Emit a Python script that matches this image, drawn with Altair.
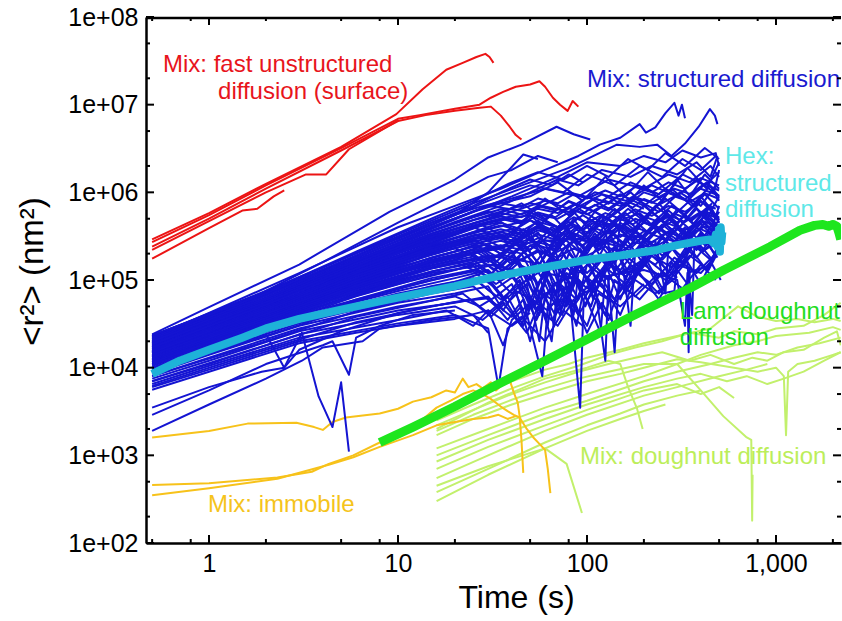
import altair as alt
import pandas as pd

# ---------------- data ----------------
red_lines = [
    [(0.5, 2.9e5), (1, 5.8e5), (2, 1.25e6), (5, 3.3e6), (9.8, 7.8e6), (13.5, 1.5e7), (18, 2.5e7), (22, 3.0e7),
     (26, 3.5e7), (29, 3.8e7), (30.5, 3.5e7), (32, 3.0e7)],
    [(0.5, 2.7e5), (1, 5.5e5), (2, 1.2e6), (5, 3.2e6), (10, 6.9e6), (13, 7.6e6), (20, 9.0e6), (27, 1.0e7),
     (31, 1.2e7), (36, 1.4e7), (42, 1.6e7), (50, 1.7e7), (56, 1.85e7), (60, 1.6e7), (66, 1.2e7), (72, 1.0e7),
     (79, 8.5e6), (84, 1.1e7), (90, 9.5e6)],
    [(0.5, 2.4e5), (1, 5.0e5), (2, 1.1e6), (5, 3.0e6), (10, 6.5e6), (14, 7.6e6), (20, 8.5e6), (27, 9.2e6),
     (31, 9.5e6), (35, 7.5e6), (39, 5.6e6), (42, 4.5e6), (45, 4.0e6)],
    [(0.5, 1.75e5), (1, 3.9e5), (1.5, 6.2e5), (1.8, 6.5e5), (2.2, 9.0e5), (2.5, 1.05e6)],
    [(0.5, 2.2e5), (1, 4.7e5), (2, 1.0e6), (3.26, 1.6e6), (4.17, 1.6e6), (5.5, 3.1e6), (8, 5.0e6), (10, 6.6e6)],
]

blue_lines = [
    [(0.5, 2.4e4), (1, 4.9e4), (3, 1.5e5), (9, 6.0e5), (20, 1.4e6), (30, 2.5e6), (45, 3.5e6), (69, 5.6e6), (85, 4.6e6), (104, 4.0e6)],
    [(0.5, 2.2e4), (1, 4.2e4), (3, 1.2e5), (10, 4.0e5), (20, 7.0e5), (35, 1.1e6), (60, 1.8e6), (90, 2.6e6), (117, 3.5e6),
     (150, 4.2e6), (190, 6.0e6), (205, 4.8e6), (230, 5.5e6), (260, 8.0e6), (290, 1.05e7), (305, 7.5e6), (318, 1.0e7), (330, 7.0e6)],
    [(0.5, 2.1e4), (1, 3.9e4), (3, 1.05e5), (10, 3.3e5), (25, 7.5e5), (50, 1.3e6), (80, 1.9e6), (144, 3.5e6), (190, 3.3e6),
     (235, 3.5e6), (280, 2.6e6), (330, 3.6e6), (390, 5.6e6), (447, 8.9e6), (475, 7.5e6), (490, 6.0e6)],
    [(0.5, 2.0e4), (1, 3.7e4), (3, 1.0e5), (10, 3.0e5), (20, 5.5e5), (30, 1.0e6), (46, 2.7e6), (55, 2.4e6)],
    [(0.5, 1.95e4), (1, 3.6e4), (3, 9.5e4), (10, 2.8e5), (20, 5.0e5), (40, 9.0e5), (70, 1.5e6), (100, 2.2e6), (150, 2.0e6),
     (200, 2.6e6), (260, 2.2e6), (320, 3.0e6), (400, 2.5e6), (480, 2.8e6), (500, 2.0e6)],
    [(0.5, 1.9e4), (1, 3.4e4), (3, 9.0e4), (10, 2.6e5), (20, 4.6e5), (35, 7.0e5), (50, 1.0e6), (70, 1.4e6), (90, 1.2e6),
     (120, 1.8e6), (170, 1.5e6), (220, 2.0e6), (300, 1.6e6), (380, 2.2e6), (450, 1.5e6), (490, 2.6e6)],
    [(0.5, 1.8e4), (1, 3.2e4), (3, 8.0e4), (10, 2.2e5), (20, 3.8e5), (40, 6.0e5), (60, 8.0e5), (80, 6.5e5), (110, 1.0e6),
     (160, 8.0e5), (220, 1.2e6), (300, 9.0e5), (380, 1.4e6), (470, 1.0e6), (500, 1.8e6)],
    [(0.5, 1.7e4), (1, 3.0e4), (3, 7.5e4), (10, 2.0e5), (20, 3.3e5), (30, 4.5e5), (50, 5.5e5), (70, 4.0e5), (95, 7.0e5),
     (130, 5.0e5), (180, 8.5e5), (240, 6.0e5), (310, 1.0e6), (400, 7.0e5), (480, 1.2e6)],
    [(0.5, 1.65e4), (1, 2.9e4), (3, 7.0e4), (10, 1.8e5), (20, 3.0e5), (35, 4.5e5), (50, 3.5e5), (65, 5.5e5), (85, 3.0e5),
     (110, 6.0e5), (150, 4.0e5), (200, 7.0e5), (260, 4.5e5), (350, 8.0e5), (430, 5.0e5), (500, 9.0e5)],
    [(0.5, 1.6e4), (1, 2.8e4), (3, 6.8e4), (10, 1.7e5), (20, 2.7e5), (40, 3.8e5), (55, 2.5e5), (75, 4.5e5), (100, 2.0e5),
     (130, 5.0e5), (170, 3.0e5), (220, 6.0e5), (290, 3.5e5), (380, 6.5e5), (460, 4.0e5), (500, 7.0e5)],
    [(0.5, 1.55e4), (1, 2.7e4), (3, 6.5e4), (10, 1.6e5), (25, 2.8e5), (40, 2.0e5), (55, 3.5e5), (70, 1.5e5), (85, 3.0e5),
     (120, 2.5e5), (160, 4.5e5), (210, 2.8e5), (270, 5.0e5), (350, 3.0e5), (420, 5.5e5), (490, 3.5e5)],
    [(0.5, 1.5e4), (1, 2.6e4), (3, 6.2e4), (10, 1.5e5), (20, 2.3e5), (30, 1.6e5), (45, 2.8e5), (60, 1.2e5), (80, 2.6e5),
     (100, 1.0e5), (130, 3.0e5), (180, 2.0e5), (240, 4.0e5), (330, 2.5e5), (420, 4.5e5), (500, 3.0e5)],
    [(0.5, 1.45e4), (1, 2.5e4), (3, 6.0e4), (10, 1.4e5), (20, 2.1e5), (35, 3.2e5), (50, 2.2e5), (65, 4.0e5), (90, 2.6e5),
     (120, 5.5e5), (170, 3.5e5), (230, 7.0e5), (300, 4.5e5), (400, 9.0e5), (480, 5.5e5)],
    [(0.5, 1.4e4), (1, 2.4e4), (3, 5.7e4), (10, 1.3e5), (20, 1.9e5), (30, 2.6e5), (40, 1.5e5), (55, 2.2e5), (70, 8.0e4),
     (80, 2.0e5), (100, 1.2e5), (140, 2.4e5), (190, 1.4e5), (250, 3.0e5), (320, 1.8e5), (400, 3.5e5), (470, 2.0e5)],
    [(0.5, 1.35e4), (1, 2.3e4), (3, 5.4e4), (10, 1.25e5), (20, 1.8e5), (35, 2.4e5), (50, 3.5e5), (60, 1.5e5), (75, 3.0e5),
     (95, 2.0e5), (130, 3.8e5), (160, 1.2e5), (200, 3.0e5), (260, 2.0e5), (330, 4.0e5), (420, 2.5e5), (500, 5.0e5)],
    [(0.5, 1.3e4), (1, 2.2e4), (3, 5.2e4), (10, 1.2e5), (20, 1.7e5), (28, 2.2e5), (38, 1.3e5), (50, 2.5e5), (65, 1.8e5),
     (80, 3.2e5), (100, 2.2e5), (140, 4.2e5), (180, 2.6e5), (240, 5.0e5), (320, 3.0e5), (410, 6.0e5), (490, 4.0e5)],
    [(0.5, 1.25e4), (1, 2.1e4), (3, 5.0e4), (10, 1.1e5), (20, 1.6e5), (30, 1.1e5), (40, 1.9e5), (55, 9.0e4), (70, 1.7e5),
     (90, 6.0e4), (100, 1.5e5), (130, 1.0e5), (170, 2.2e5), (230, 1.5e5), (300, 2.8e5), (380, 1.8e5), (470, 3.2e5)],
    [(0.5, 1.2e4), (1, 2.0e4), (3, 4.6e4), (10, 1.0e5), (20, 1.45e5), (35, 1.9e5), (50, 1.3e5), (60, 2.2e5), (75, 1.1e5),
     (85, 4.0e4), (90, 1.2e5), (110, 1.8e5), (150, 1.3e5), (190, 2.5e5), (250, 1.7e5), (330, 3.2e5), (420, 2.2e5), (500, 2.8e5)],
    [(0.5, 1.15e4), (1, 1.9e4), (3, 4.3e4), (10, 9.0e4), (20, 1.3e5), (30, 1.7e5), (42, 1.0e5), (55, 1.6e5), (68, 7.0e4),
     (78, 1.4e5), (95, 9.0e4), (120, 1.7e5), (160, 1.1e5), (210, 2.0e5), (280, 1.4e5), (360, 2.6e5), (450, 1.7e5)],
    [(0.5, 1.1e4), (1, 1.8e4), (3, 4.0e4), (10, 8.0e4), (20, 1.15e5), (32, 1.5e5), (45, 9.0e4), (58, 1.3e5), (70, 5.0e4),
     (82, 1.2e5), (100, 8.0e4), (125, 1.5e5), (150, 6.0e4), (175, 1.3e5), (220, 9.0e4), (290, 1.8e5), (380, 1.2e5), (480, 2.0e5)],
    [(0.5, 1.05e4), (1, 1.7e4), (3, 3.8e4), (10, 7.5e4), (20, 1.05e5), (30, 1.3e5), (40, 7.0e4), (50, 1.1e5), (62, 3.0e4),
     (66, 9.0e4), (85, 1.1e5), (105, 5.0e4), (120, 1.2e5), (160, 8.0e4), (200, 1.5e5), (260, 1.0e5), (340, 1.7e5)],
    [(0.5, 1.0e4), (1, 1.6e4), (3, 3.6e4), (10, 7.0e4), (20, 9.5e4), (28, 1.2e5), (36, 6.0e4), (44, 1.0e5), (52, 5.0e4),
     (60, 9.0e4), (72, 4.0e4), (80, 9.0e4), (92, 3.5e3), (96, 6.0e4), (110, 1.0e5), (140, 6.0e4), (170, 1.1e5)],
    [(0.5, 9.5e3), (1, 1.55e4), (3, 3.4e4), (10, 6.5e4), (20, 8.5e4), (30, 1.05e5), (38, 5.5e4), (48, 9.0e4), (56, 2.0e4),
     (60, 7.0e4), (75, 8.0e4), (88, 3.0e4), (95, 7.0e4), (120, 9.0e4), (150, 4.0e4), (185, 1.2e5), (240, 7.0e4), (300, 1.3e5)],
    [(0.5, 9.0e3), (1, 1.5e4), (3, 3.2e4), (10, 6.0e4), (20, 8.0e4), (26, 1.0e5), (33, 6.5e4), (40, 9.0e4), (47, 4.0e4),
     (53, 8.0e4), (65, 6.0e4), (78, 1.2e5), (100, 7.0e4), (125, 1.4e5), (160, 9.0e4), (210, 1.7e5), (270, 1.1e5),
     (350, 1.9e5), (440, 1.3e5), (500, 2.2e5)],
    [(0.5, 8.5e3), (1, 1.4e4), (3, 3.0e4), (10, 5.5e4), (20, 7.0e4), (30, 8.5e4), (36, 4.5e4), (42, 7.5e4), (55, 5.5e4),
     (70, 9.5e4), (85, 5.0e4), (100, 8.5e4), (130, 3.5e4), (150, 9.0e4), (190, 6.0e4), (250, 1.2e5), (320, 8.0e4),
     (400, 1.5e5), (480, 1.0e5)],
    [(0.5, 8.0e3), (1, 1.3e4), (3, 2.8e4), (10, 5.0e4), (20, 6.5e4), (27, 5.0e4), (35, 7.0e4), (45, 3.0e4), (50, 6.0e4),
     (62, 4.5e4), (75, 7.5e4), (90, 4.0e4), (110, 8.0e4), (140, 5.5e4), (180, 1.0e5), (230, 7.0e4), (300, 1.1e5)],
    [(0.5, 7.5e3), (1, 1.2e4), (3, 2.6e4), (10, 4.5e4), (20, 5.5e4), (30, 6.5e4), (38, 3.5e4), (46, 6.0e4), (58, 8.0e3),
     (62, 5.0e4), (80, 6.5e4), (100, 3.0e4), (115, 7.0e4), (150, 5.0e4), (200, 9.0e4)],
    [(0.5, 7.0e3), (1, 1.1e4), (3, 2.4e4), (10, 4.0e4), (20, 5.0e4), (28, 3.5e4), (36, 5.5e4), (48, 2.5e4), (55, 5.0e4),
     (70, 3.0e4), (85, 6.0e4), (100, 2.5e4), (120, 5.5e4), (140, 3.0e4)],
    [(0.5, 6.5e3), (1, 1.05e4), (3, 2.2e4), (10, 3.5e4), (18, 4.5e4), (25, 3.0e4), (30, 4.5e4), (36, 1.8e4), (40, 3.5e4),
     (50, 5.5e4), (65, 3.5e4), (80, 6.5e4)],
    [(0.5, 6.0e3), (1, 9.5e3), (3, 2.0e4), (10, 3.2e4), (20, 4.0e4), (30, 2.8e4), (34, 6.0e3), (38, 2.8e4), (45, 3.8e4),
     (60, 2.0e4), (75, 4.5e4), (95, 3.0e4)],
    [(0.5, 5.6e3), (1, 9.0e3), (3, 1.9e4), (6, 2.5e4), (10, 3.0e4), (20, 3.6e4), (30, 4.5e4), (40, 3.0e4), (50, 4.2e4)],
    [(0.5, 3.5e3), (1, 6.0e3), (1.9, 9.0e3), (2.5, 1.0e4), (3, 1.6e4), (5, 2.6e4), (10, 4.2e4), (20, 5.6e4), (30, 6.2e4),
     (40, 3.8e4), (45, 5.0e4)],
    [(0.5, 9.0e3), (1, 1.5e4), (2, 2.4e4), (2.5, 1.0e4), (3.1, 2.5e4), (3.8, 4.7e3), (4.5, 2.1e3), (5.0, 6.8e3), (5.5, 1.1e3)],
    [(0.5, 2.9e3), (1, 5.5e3), (2, 1.1e4), (4, 1.8e4), (4.5, 2.0e4), (5.5, 8.3e3), (6.0, 2.2e4), (8, 3.0e4), (12, 4.0e4), (20, 4.5e4)],
    [(0.5, 1.9e3), (1, 3.8e3), (2, 7.5e3), (3.1, 1.2e4), (4, 1.7e4), (6.5, 2.0e4), (8, 2.8e4), (15, 3.5e4), (25, 4.0e4), (30, 2.5e4)],
    [(0.5, 2.3e4), (2, 7.5e4), (6, 2.0e5), (15, 4.5e5), (25, 6.5e5), (40, 8.5e5), (60, 1.1e6), (90, 9.0e5), (130, 1.4e6),
     (200, 1.1e6), (270, 1.6e6), (350, 1.3e6), (450, 2.0e6), (500, 1.5e6)],
    [(0.5, 2.25e4), (2, 7.0e4), (6, 1.8e5), (15, 4.0e5), (30, 7.0e5), (50, 6.0e5), (80, 1.0e6), (120, 8.0e5), (170, 1.3e6),
     (240, 9.5e5), (320, 1.6e6), (420, 1.2e6), (500, 1.7e6)],
    [(0.5, 1.85e4), (2, 5.8e4), (6, 1.5e5), (15, 3.2e5), (30, 5.0e5), (45, 7.5e5), (60, 5.0e5), (80, 8.0e5), (110, 6.0e5),
     (150, 9.5e5), (200, 7.0e5), (260, 1.1e6), (340, 8.0e5), (430, 1.3e6), (500, 9.0e5)],
    [(0.5, 1.75e4), (2, 5.3e4), (6, 1.35e5), (15, 2.8e5), (25, 4.0e5), (35, 3.0e5), (50, 4.8e5), (70, 3.5e5), (95, 5.5e5),
     (125, 3.8e5), (165, 6.5e5), (215, 4.2e5), (280, 7.0e5), (360, 4.8e5), (460, 7.5e5)],
    [(0.5, 1.6e4), (2, 4.8e4), (6, 1.2e5), (15, 2.4e5), (30, 3.5e5), (40, 2.6e5), (55, 4.0e5), (72, 2.8e5), (90, 4.2e5),
     (115, 2.2e5), (150, 4.5e5), (200, 3.0e5), (260, 5.5e5), (340, 3.3e5), (430, 5.8e5), (500, 4.0e5)],
    [(0.5, 1.5e4), (2, 4.4e4), (6, 1.1e5), (15, 2.1e5), (25, 2.9e5), (35, 2.0e5), (48, 3.2e5), (62, 2.1e5), (80, 3.5e5),
     (100, 1.6e5), (130, 3.6e5), (170, 2.3e5), (230, 4.2e5), (300, 2.6e5), (390, 4.6e5), (480, 3.0e5)],
    [(0.5, 1.4e4), (2, 4.0e4), (6, 9.5e4), (15, 1.8e5), (25, 2.4e5), (33, 1.6e5), (42, 2.6e5), (55, 1.4e5), (68, 2.8e5),
     (85, 1.3e5), (110, 3.0e5), (140, 1.6e5), (190, 3.3e5), (250, 1.9e5), (330, 3.6e5), (410, 2.1e5), (500, 3.2e5)],
    [(0.5, 1.3e4), (2, 3.6e4), (6, 8.5e4), (15, 1.55e5), (25, 2.0e5), (32, 1.3e5), (40, 2.1e5), (50, 1.0e5), (62, 2.2e5),
     (78, 1.0e5), (92, 2.3e5), (115, 9.0e4), (140, 2.4e5), (180, 1.3e5), (230, 2.6e5), (300, 1.5e5), (380, 2.8e5), (460, 1.7e5)],
    [(0.5, 1.2e4), (2, 3.2e4), (6, 7.5e4), (15, 1.35e5), (25, 1.7e5), (32, 1.1e5), (42, 1.7e5), (52, 7.0e4), (64, 1.6e5),
     (76, 6.0e4), (90, 1.5e5), (110, 7.0e4), (135, 1.7e5), (170, 9.0e4), (220, 1.9e5), (290, 1.1e5), (370, 2.1e5)],
    [(0.5, 1.1e4), (2, 2.9e4), (6, 6.5e4), (15, 1.15e5), (25, 1.45e5), (33, 9.0e4), (43, 1.3e5), (53, 5.0e4), (63, 1.2e5),
     (74, 4.0e4), (86, 1.1e5), (98, 5.0e4), (115, 1.2e5), (140, 6.0e4), (170, 1.3e5)],
    [(0.5, 1.0e4), (2, 2.6e4), (6, 5.8e4), (15, 1.0e5), (25, 1.25e5), (33, 8.0e4), (41, 1.1e5), (49, 4.5e4), (57, 1.0e5),
     (67, 3.0e4), (72, 9.0e4), (88, 6.0e4), (100, 1.1e5), (125, 4.0e4), (140, 1.0e5), (180, 6.5e4), (240, 1.2e5)],
    [(0.5, 9.0e3), (2, 2.3e4), (6, 5.0e4), (15, 8.5e4), (25, 1.05e5), (35, 6.0e4), (44, 9.0e4), (54, 3.5e4), (64, 8.0e4),
     (76, 5.0e4), (88, 1.0e5), (100, 6.0e4)],
    [(0.5, 8.0e3), (2, 2.0e4), (6, 4.4e4), (15, 7.0e4), (25, 8.5e4), (33, 5.0e4), (42, 7.5e4), (50, 2.0e4), (58, 7.0e4),
     (68, 4.0e4), (80, 8.0e4)],
    [(0.5, 7.0e3), (2, 1.8e4), (6, 3.8e4), (15, 5.8e4), (22, 7.0e4), (30, 4.2e4), (38, 6.5e4), (46, 3.0e4), (52, 6.0e4)],
    [(0.5, 6.2e3), (2, 1.6e4), (6, 3.3e4), (15, 5.0e4), (24, 6.0e4), (31, 3.8e4), (37, 5.5e4)],
    [(0.5, 1.9e4), (2, 6.0e4), (6, 1.6e5), (15, 3.6e5), (30, 6.0e5), (45, 4.5e5), (60, 8.5e5), (80, 5.5e5), (100, 9.0e5),
     (130, 6.5e5), (170, 1.0e6), (220, 6.0e5), (280, 1.1e6), (360, 7.0e5), (450, 1.2e6), (500, 8.0e5)],
    [(0.5, 1.7e4), (2, 5.0e4), (6, 1.3e5), (15, 2.6e5), (28, 4.2e5), (38, 3.0e5), (50, 5.5e5), (66, 3.2e5), (85, 6.0e5),
     (105, 3.6e5), (140, 6.5e5), (185, 3.8e5), (240, 7.5e5), (310, 4.0e5), (400, 8.0e5), (500, 5.0e5)],
    [(0.5, 1.55e4), (2, 4.6e4), (6, 1.15e5), (15, 2.3e5), (26, 3.3e5), (36, 2.3e5), (46, 3.8e5), (60, 2.0e5), (75, 4.2e5),
     (95, 2.4e5), (120, 4.8e5), (155, 2.5e5), (200, 5.2e5), (260, 2.9e5), (330, 5.6e5), (420, 3.2e5), (500, 6.0e5)],
    [(0.5, 1.45e4), (2, 4.2e4), (6, 1.0e5), (15, 2.0e5), (25, 2.6e5), (34, 1.8e5), (44, 3.0e5), (56, 1.5e5), (70, 3.2e5),
     (88, 1.6e5), (110, 3.4e5), (140, 1.8e5), (180, 3.6e5), (230, 2.0e5), (300, 3.9e5), (380, 2.2e5), (470, 4.2e5)],
    [(0.5, 1.35e4), (2, 3.8e4), (6, 9.0e4), (15, 1.7e5), (25, 2.2e5), (35, 1.4e5), (45, 2.4e5), (57, 1.1e5), (70, 2.6e5),
     (85, 1.2e5), (105, 2.8e5), (130, 1.3e5), (160, 3.0e5), (200, 1.5e5), (250, 3.2e5), (320, 1.6e5), (400, 3.4e5), (490, 1.8e5)],
    [(0.5, 1.25e4), (2, 3.4e4), (6, 8.0e4), (15, 1.45e5), (25, 1.85e5), (35, 1.2e5), (45, 2.0e5), (55, 9.0e4), (68, 2.1e5),
     (82, 8.0e4), (96, 2.2e5), (115, 9.0e4), (140, 2.3e5), (175, 1.0e5), (215, 2.4e5), (270, 1.2e5), (340, 2.5e5),
     (430, 1.3e5), (500, 2.6e5)],
    [(0.5, 1.15e4), (2, 3.1e4), (6, 7.0e4), (15, 1.25e5), (25, 1.55e5), (34, 1.0e5), (44, 1.6e5), (54, 6.0e4), (66, 1.7e5),
     (78, 5.0e4), (92, 1.6e5), (108, 6.0e4), (128, 1.8e5), (160, 7.0e4), (200, 1.9e5), (250, 8.0e4), (320, 2.0e5),
     (400, 9.0e4), (480, 2.1e5)],
    [(0.5, 2.15e4), (2, 6.8e4), (6, 1.9e5), (15, 4.2e5), (30, 8.0e5), (50, 1.2e6), (75, 1.0e6), (100, 1.6e6), (140, 1.2e6),
     (190, 2.0e6), (250, 1.5e6), (320, 2.4e6), (400, 1.8e6), (480, 2.6e6)],
    [(0.5, 2.05e4), (2, 6.3e4), (6, 1.7e5), (15, 3.8e5), (30, 7.0e5), (50, 9.0e5), (70, 1.3e6), (95, 8.0e5), (125, 1.5e6),
     (160, 9.0e5), (210, 1.7e6), (270, 1.0e6), (340, 1.9e6), (430, 1.1e6), (500, 2.2e6)],
    [(0.5, 2.3e4), (2, 7.3e4), (6, 2.1e5), (15, 5.0e5), (25, 8.0e5), (40, 1.3e6), (55, 1.7e6), (75, 1.4e6), (100, 2.0e6),
     (130, 1.5e6), (165, 2.4e6), (210, 1.8e6), (260, 2.8e6), (330, 2.0e6), (420, 3.2e6), (500, 2.4e6)],
    [(0.5, 2.2e4), (2, 7.0e4), (6, 1.9e5), (15, 4.5e5), (25, 7.0e5), (35, 1.0e6), (50, 1.4e6), (65, 1.2e6), (80, 1.6e6), (95, 1.3e6)],
    [(0.5, 1.3e4), (2, 3.7e4), (6, 8.8e4), (15, 1.6e5), (30, 2.3e5), (60, 2.8e5), (100, 3.0e5), (150, 2.4e5), (170, 3.0e4),
     (180, 2.2e5), (230, 2.8e5), (260, 7.0e4), (270, 2.5e5), (330, 3.0e5), (360, 4.0e4), (370, 2.6e5), (450, 3.3e5), (500, 2.4e5)],
    [(0.5, 1.2e4), (2, 3.3e4), (6, 7.8e4), (15, 1.4e5), (30, 1.9e5), (50, 1.6e5), (65, 2.0e4), (72, 1.5e5), (100, 1.8e5),
     (130, 1.0e5), (140, 1.5e4), (148, 1.2e5), (200, 1.7e5), (250, 7.0e4), (280, 1.6e5), (340, 9.0e4), (345, 1.5e4), (350, 1.4e5)],
    [(0.5, 1.1e4), (2, 3.0e4), (6, 6.8e4), (15, 1.2e5), (30, 1.5e5), (50, 1.2e5), (80, 1.6e5), (110, 9.0e4), (125, 1.2e4),
     (130, 1.1e5), (180, 1.4e5), (240, 6.0e4), (250, 7.0e4), (290, 7.5e4), (300, 1.5e5), (400, 1.2e5), (480, 1.9e5)],
    [(0.5, 1.0e4), (2, 2.7e4), (6, 6.0e4), (15, 1.05e5), (25, 1.3e5), (40, 1.1e5), (56, 4.0e4), (60, 1.2e5), (90, 1.0e5),
     (118, 2.5e4), (125, 1.1e5), (200, 1.3e5), (300, 1.0e5), (330, 3.0e4), (340, 1.2e5), (460, 1.5e5), (510, 1.0e5)],
    [(0.5, 2.35e4), (1.5, 5.5e4), (4, 1.6e5), (10, 4.5e5), (20, 9.5e5), (30, 1.5e6), (40, 1.8e6), (55, 2.6e6), (70, 2.2e6)],
    [(0.5, 1.95e4), (2, 6.0e4), (6, 1.6e5), (15, 3.4e5), (30, 5.5e5), (50, 7.5e5), (80, 6.0e5), (120, 9.5e5), (160, 7.0e5),
     (200, 1.2e6), (250, 8.0e5), (300, 1.4e6), (350, 9.0e5), (420, 1.6e6), (500, 1.1e6)],
    [(0.5, 1.8e4), (2, 5.5e4), (6, 1.4e5), (15, 3.0e5), (30, 4.6e5), (50, 6.0e5), (70, 4.0e5), (90, 6.5e5), (120, 4.5e5),
     (160, 7.5e5), (200, 5.0e5), (260, 8.5e5), (330, 5.5e5), (420, 9.5e5), (500, 6.5e5)],
    [(0.5, 1.65e4), (2, 4.9e4), (6, 1.25e5), (15, 2.5e5), (30, 3.8e5), (50, 4.8e5), (70, 3.0e5), (90, 5.2e5), (120, 3.2e5),
     (160, 5.8e5), (210, 3.5e5), (270, 6.2e5), (350, 3.8e5), (440, 6.8e5), (500, 4.5e5)],
    [(0.5, 1.5e4), (2, 4.4e4), (6, 1.1e5), (15, 2.1e5), (30, 3.0e5), (50, 3.6e5), (68, 2.2e5), (88, 3.8e5), (115, 2.4e5),
     (150, 4.0e5), (195, 2.6e5), (250, 4.3e5), (320, 2.8e5), (410, 4.6e5), (500, 3.0e5)],
    [(0.5, 1.75e4), (2, 5.4e4), (6, 1.4e5), (15, 2.9e5), (25, 4.2e5), (35, 5.0e5), (45, 4.4e5), (55, 5.6e5), (70, 5.0e5),
     (85, 6.3e5), (100, 5.6e5), (120, 7.0e5), (145, 6.0e5), (170, 7.6e5), (200, 6.5e5)],
    [(0.5, 1.6e4), (2, 4.9e4), (6, 1.25e5), (15, 2.55e5), (25, 3.5e5), (35, 4.2e5), (45, 3.6e5), (55, 4.6e5), (70, 4.0e5),
     (85, 5.2e5), (100, 4.5e5), (125, 5.8e5), (150, 5.0e5), (180, 6.4e5), (220, 5.4e5), (270, 7.0e5), (330, 6.0e5),
     (400, 7.8e5), (480, 6.5e5)],
    [(0.5, 1.45e4), (2, 4.3e4), (6, 1.05e5), (15, 2.1e5), (25, 2.9e5), (35, 3.3e5), (45, 2.9e5), (55, 3.7e5), (70, 3.2e5),
     (85, 4.1e5), (100, 3.5e5), (125, 4.5e5), (150, 3.9e5), (180, 5.0e5), (220, 4.2e5), (270, 5.5e5), (330, 4.6e5),
     (400, 6.0e5), (500, 5.0e5)],
    [(0.5, 1.35e4), (2, 3.9e4), (6, 9.2e4), (15, 1.8e5), (25, 2.4e5), (35, 2.8e5), (45, 2.4e5), (55, 3.0e5), (70, 2.6e5),
     (85, 3.3e5), (100, 2.8e5), (125, 3.6e5), (150, 3.1e5), (180, 4.0e5), (220, 3.4e5), (270, 4.4e5), (330, 3.7e5),
     (400, 4.8e5), (500, 4.0e5)],
    [(0.5, 1.25e4), (2, 3.5e4), (6, 8.2e4), (15, 1.55e5), (25, 2.0e5), (35, 2.3e5), (45, 2.0e5), (55, 2.5e5), (70, 2.1e5),
     (85, 2.7e5), (100, 2.3e5), (125, 2.9e5), (150, 2.5e5), (180, 3.2e5), (220, 2.7e5), (270, 3.5e5), (330, 3.0e5),
     (400, 3.8e5), (480, 3.2e5)],
    [(0.5, 2.1e4), (2, 6.6e4), (6, 1.8e5), (15, 4.0e5), (25, 6.0e5), (35, 7.5e5), (45, 6.8e5), (55, 8.5e5), (70, 7.5e5),
     (85, 9.5e5), (100, 8.5e5), (125, 1.05e6), (150, 9.0e5), (180, 1.15e6), (220, 1.0e6), (270, 1.3e6), (330, 1.1e6),
     (400, 1.45e6), (500, 1.2e6)],
    [(0.5, 1.9e4), (2, 5.9e4), (6, 1.55e5), (15, 3.3e5), (25, 4.8e5), (35, 5.8e5), (45, 5.2e5), (55, 6.5e5), (70, 5.8e5),
     (85, 7.3e5), (100, 6.5e5), (125, 8.0e5), (150, 7.0e5), (180, 8.8e5), (220, 7.6e5), (270, 9.8e5), (330, 8.4e5),
     (400, 1.1e6), (500, 9.2e5)],
    [(0.5, 1.15e4), (2, 3.2e4), (6, 7.3e4), (15, 1.35e5), (25, 1.7e5), (35, 1.95e5), (45, 1.7e5), (55, 2.1e5), (70, 1.8e5),
     (85, 2.3e5), (100, 1.9e5), (125, 2.4e5), (150, 2.1e5), (180, 2.7e5), (220, 2.3e5), (270, 2.9e5), (330, 2.5e5),
     (400, 3.2e5), (500, 2.7e5)],
    [(0.5, 1.7e4), (2, 5.2e4), (6, 1.35e5), (15, 2.8e5), (25, 4.0e5), (35, 4.6e5), (45, 3.2e5), (55, 4.8e5), (70, 2.8e5),
     (85, 5.0e5), (100, 3.0e5), (120, 5.4e5), (140, 1.2e5), (150, 4.8e5), (190, 5.8e5), (240, 3.5e5), (300, 6.4e5),
     (380, 4.0e5), (450, 7.0e5), (500, 4.5e5)],
    [(0.5, 1.55e4), (2, 4.7e4), (6, 1.2e5), (15, 2.3e5), (25, 3.2e5), (35, 3.8e5), (45, 3.3e5), (55, 4.2e5), (68, 3.6e5),
     (80, 4.6e5), (95, 3.8e5), (110, 5.0e5), (130, 4.2e5), (150, 5.5e5), (170, 4.6e5)],
    [(0.5, 1.4e4), (2, 4.1e4), (6, 9.8e4), (15, 1.95e5), (25, 2.6e5), (35, 3.0e5), (45, 2.7e5), (55, 3.3e5), (68, 2.9e5),
     (80, 3.6e5), (95, 3.1e5), (110, 3.9e5), (130, 3.4e5), (150, 4.2e5), (175, 3.6e5), (200, 4.5e5), (240, 3.9e5), (290, 4.8e5)],
    [(0.5, 2.0e4), (2, 6.2e4), (6, 1.65e5), (15, 3.6e5), (25, 5.2e5), (35, 6.4e5), (45, 5.6e5), (55, 7.0e5), (68, 6.2e5),
     (80, 7.8e5), (95, 6.8e5), (110, 8.6e5), (130, 7.4e5), (150, 9.4e5), (175, 8.0e5), (200, 1.0e6), (240, 8.8e5),
     (290, 1.1e6), (350, 9.6e5), (420, 1.25e6), (500, 1.05e6)],
    [(0.5, 1.3e4), (2, 3.7e4), (6, 8.6e4), (15, 1.65e5), (25, 2.2e5), (35, 2.5e5), (45, 2.2e5), (55, 2.7e5), (68, 2.4e5),
     (80, 2.95e5), (95, 2.5e5), (110, 3.1e5), (130, 2.7e5), (150, 3.3e5), (175, 2.9e5), (200, 3.6e5), (240, 3.1e5),
     (290, 3.9e5), (350, 3.3e5), (420, 4.1e5), (500, 3.5e5)],
    [(0.5, 1.85e4), (2, 5.6e4), (6, 1.45e5), (15, 3.1e5), (25, 4.4e5), (35, 5.3e5), (45, 4.7e5), (55, 5.9e5), (68, 5.2e5),
     (80, 6.6e5), (95, 5.7e5), (110, 7.2e5), (130, 6.2e5), (150, 7.8e5), (175, 6.7e5), (200, 8.4e5), (240, 7.2e5),
     (290, 9.0e5), (350, 7.8e5), (420, 9.8e5), (500, 8.4e5)],
    [(0.5, 1.5e4), (2, 4.5e4), (6, 1.12e5), (15, 2.2e5), (25, 3.0e5), (35, 3.5e5), (45, 3.1e5), (55, 3.9e5), (68, 3.4e5),
     (80, 4.3e5), (95, 3.7e5), (110, 4.6e5), (130, 4.0e5), (150, 5.0e5), (175, 4.3e5), (200, 5.3e5), (240, 4.6e5),
     (290, 5.7e5), (350, 4.9e5), (420, 6.1e5), (500, 5.2e5)],
]

hex_line = [
    [(0.5, 8.5e3), (0.7, 1.2e4), (1, 1.6e4), (1.5, 2.2e4), (2, 2.8e4), (3, 3.6e4), (5, 4.6e4), (8, 5.7e4), (10, 6.3e4),
     (20, 8.5e4), (30, 1.05e5), (50, 1.3e5), (100, 1.7e5), (150, 1.9e5), (235, 2.2e5), (300, 2.5e5), (400, 2.8e5),
     (446, 2.9e5), (470, 2.6e5), (480, 3.3e5), (490, 2.4e5), (500, 3.8e5), (505, 2.1e5), (510, 4.0e5), (515, 2.7e5),
     (520, 3.5e5)],
]

lam_line = [
    [(8, 1.4e3), (12, 2.1e3), (20, 3.6e3), (33, 6.3e3), (60, 1.2e4), (104, 2.2e4), (175, 3.9e4), (352, 8.1e4),
     (530, 1.3e5), (930, 2.4e5), (1340, 3.7e5), (1600, 4.2e5), (1770, 4.3e5), (1900, 4.1e5), (2000, 4.3e5),
     (2100, 4.1e5), (2150, 3.5e5), (2200, 2.9e5)],
]

immobile_lines = [
    [(0.5, 1.6e3), (1, 1.9e3), (1.6, 2.3e3), (2.9, 2.35e3), (3.6, 2.1e3), (4.0, 1.95e3), (4.5, 2.4e3), (5.3, 2.7e3),
     (8, 3.0e3), (10, 3.4e3), (12, 4.1e3), (15, 4.6e3), (18, 5.5e3), (20, 5.2e3), (22, 7.5e3), (23.6, 6.0e3),
     (26, 6.5e3), (28, 5.8e3), (31, 6.8e3), (33, 5.5e3), (36, 6.5e3), (39, 7.2e3), (41, 5.2e3), (43, 4.0e3),
     (44, 2.8e3), (45, 1.5e3), (46, 6.3e2)],
    [(0.5, 4.6e2), (1, 4.8e2), (2.3, 5.6e2), (3.5, 6.5e2), (4.3, 8.0e2), (5.8, 1.0e3), (8, 1.4e3), (10, 1.7e3),
     (13, 2.4e3), (16, 3.5e3), (19, 4.2e3), (22, 5.0e3), (25, 5.5e3), (28, 5.0e3), (31, 4.4e3), (35, 3.6e3),
     (38, 3.2e3), (41, 2.9e3), (44, 2.7e3), (48, 2.0e3), (52, 1.6e3), (57, 1.3e3), (60, 1.15e3), (62, 7.0e2), (64, 3.7e2)],
    [(0.5, 3.5e2), (1, 4.2e2), (2.3, 5.4e2), (4.3, 7.8e2), (5.8, 9.5e2), (8, 1.25e3), (12, 1.7e3), (16, 2.2e3),
     (20, 2.4e3), (25, 2.6e3), (30, 2.7e3), (34, 2.9e3), (38, 2.6e3), (42, 2.8e3)],
]

doughnut_lines = [
    [(16, 2.8e3), (25, 4.5e3), (40, 7.0e3), (60, 9.5e3), (80, 1.1e4), (100, 1.3e4), (150, 1.6e4), (200, 1.9e4),
     (300, 2.3e4), (450, 2.8e4), (630, 5.0e4), (800, 3.8e4), (1000, 3.4e4), (1300, 3.6e4), (1600, 3.3e4), (2000, 3.6e4), (2200, 3.4e4)],
    [(16, 2.5e3), (25, 3.8e3), (40, 5.8e3), (60, 8.0e3), (90, 1.05e4), (130, 1.4e4), (180, 1.7e4), (250, 2.0e4),
     (350, 2.5e4), (500, 2.2e4), (600, 2.6e4), (800, 2.4e4), (1000, 2.8e4), (1400, 3.0e4), (1800, 4.0e4), (2200, 5.5e4)],
    [(16, 2.2e3), (25, 3.3e3), (40, 5.0e3), (60, 6.8e3), (90, 9.0e3), (130, 1.1e4), (180, 1.3e4), (250, 1.5e4),
     (350, 1.2e4), (450, 1.4e4), (600, 1.1e4), (750, 1.3e4), (900, 1.2e4), (1100, 1.5e4), (1400, 1.6e4), (1800, 2.2e4),
     (2100, 2.6e4), (2200, 1.8e4)],
    [(16, 1.9e3), (25, 2.9e3), (40, 4.3e3), (60, 5.8e3), (90, 7.5e3), (130, 9.0e3), (200, 1.1e4), (300, 1.1e4),
     (410, 5.2e3), (526, 2.8e3), (700, 1.6e3), (740, 1.5e3), (748, 1.8e2), (752, 6.0e2)],
    [(16, 1.7e3), (25, 2.6e3), (40, 3.8e3), (60, 5.0e3), (100, 7.0e3), (150, 8.5e3), (200, 1.0e4), (300, 1.25e4),
     (400, 1.15e4), (600, 1.0e4), (800, 9.0e3), (1000, 1.0e4), (1100, 8.0e3), (1130, 1.7e3), (1160, 9.0e3),
     (1300, 1.1e4), (1600, 1.2e4), (2000, 1.4e4), (2200, 1.5e4)],
    [(16, 2.0e3), (30, 4.0e3), (60, 7.5e3), (100, 1.0e4), (130, 1.2e4), (150, 1.1e4), (165, 6.0e3), (184, 3.4e3), (197, 2.0e3)],
    [(16, 4.5e2), (30, 7.5e2), (60, 1.2e3), (78, 8.0e2), (94, 2.2e2)],
    [(16, 1.2e3), (30, 2.0e3), (60, 3.5e3), (100, 5.0e3), (200, 8.0e3), (300, 1.1e4), (400, 1.4e4), (600, 1.8e4),
     (800, 2.0e4), (1000, 2.3e4), (1500, 2.5e4), (2000, 2.9e4), (2200, 2.7e4)],
    [(16, 1.0e3), (30, 1.7e3), (60, 3.0e3), (100, 4.2e3), (200, 7.0e3), (300, 9.0e3), (450, 1.1e4), (600, 1.3e4),
     (800, 1.5e4), (1000, 1.4e4), (1300, 1.7e4), (1700, 1.9e4), (2200, 2.2e4)],
    [(16, 8.5e2), (30, 1.5e3), (60, 2.6e3), (100, 3.8e3), (200, 6.0e3), (300, 7.5e3), (400, 8.5e3), (550, 7.0e3),
     (700, 8.0e3), (900, 6.5e3), (1100, 7.5e3), (1400, 9.0e3), (1800, 1.2e4), (2200, 1.5e4)],
    [(16, 7.0e2), (30, 1.25e3), (60, 2.2e3), (100, 3.3e3), (200, 5.5e3), (300, 6.5e3), (400, 5.0e3), (500, 6.0e3), (600, 4.5e3)],
    [(16, 5.5e2), (30, 1.0e3), (60, 1.9e3), (100, 2.9e3), (200, 4.8e3), (300, 6.0e3), (500, 8.0e3), (700, 9.5e3), (900, 1.1e4)],
    [(16, 3.8e2), (30, 7.0e2), (60, 1.4e3), (100, 2.2e3), (150, 3.0e3), (200, 3.8e3), (300, 4.8e3), (400, 5.5e3)],
    [(16, 3.0e2), (30, 6.0e2), (60, 1.2e3), (100, 1.9e3), (150, 2.6e3), (200, 3.2e3), (260, 3.8e3)],
]

labels_text = ["Mix: fast unstructured", "diffusion (surface)", "Mix: structured diffusion", "Hex:", "structured",
               "diffusion", "Lam: doughnut", "diffusion", "Mix: doughnut diffusion", "Mix: immobile"]
labels_t = [0.571, 1.116, 100, 537, 537, 537, 310, 310, 91.8, 0.988]
labels_r2 = [2.835e7, 1.395e7, 1.91e7, 2.53e6, 1.245e6, 6.29e5, 4.32e4, 2.18e4, 957, 271.6]
labels_color = ["#e8141c", "#e8141c", "#1a1ad0", "#5ee8e8", "#5ee8e8", "#5ee8e8", "#22dd22", "#22dd22",
                "#bcee5a", "#f5c41c"]

x_major = [1, 10, 100, 1000]
x_minor = [0.5, 0.8, 2, 5, 8, 20, 50, 80, 200, 500, 800, 2000]
y_major = [1e2, 1e3, 1e4, 1e5, 1e6, 1e7, 1e8]
y_minor = [2e2, 5e2, 2e3, 5e3, 2e4, 5e4, 2e5, 5e5, 2e6, 5e6, 2e7, 5e7]

# ---------------- chart ----------------
W, H = 695, 526
FONT = "Liberation Sans"
xs = alt.Scale(type="log", domain=[0.464, 2208], nice=False)
ys = alt.Scale(type="log", domain=[100, 1e8], nice=False)

x_axis = alt.Axis(values=x_major, labelExpr="format(datum.value, ',')", ticks=False, grid=False,
                  domainColor="black", domainWidth=2.5, labelFont=FONT, labelFontSize=25, labelColor="black",
                  labelPadding=8, labelFlush=False, labelOverlap=False,
                  title="Time (s)", titleFont=FONT, titleFontSize=32, titleFontWeight="normal",
                  titleColor="black", titleX=370, titleY=54, titleBaseline="middle", titleAlign="center")
y_axis = alt.Axis(values=y_major, labelExpr="'1e+0' + round(log(datum.value) / LN10)", ticks=False, grid=False,
                  domainColor="black", domainWidth=2.5, labelFont=FONT, labelFontSize=25, labelColor="black",
                  labelPadding=8, labelFlush=False, labelOverlap=False,
                  title="<r²> (nm²)", titleFont=FONT, titleFontSize=33, titleFontWeight="normal",
                  titleColor="black", titleX=-114, titleY=254, titleAngle=-90, titleBaseline="middle",
                  titleAlign="center")

X = alt.X("t:Q", scale=xs, axis=x_axis)
Y = alt.Y("r2:Q", scale=ys, axis=y_axis)


def frame(lines):
    rows = []
    for k, ln in enumerate(lines):
        for i, (t, v) in enumerate(ln):
            rows.append({"line": k, "i": i, "t": t, "r2": v})
    return pd.DataFrame(rows)


def lines_layer(lines, color, width):
    return alt.Chart(frame(lines)).mark_line(color=color, strokeWidth=width, clip=True,
                                              strokeJoin="round").encode(
        x=X, y=Y, detail="line:N", order="i:Q")


def xticks(vals, y0, y1):
    return alt.Chart(pd.DataFrame({"t": vals})).mark_rule(color="black", strokeWidth=2).encode(
        x=X, y=alt.value(y0), y2=alt.value(y1))


def yticks(vals, x0, x1):
    return alt.Chart(pd.DataFrame({"r2": vals})).mark_rule(color="black", strokeWidth=2).encode(
        y=Y, x=alt.value(x0), x2=alt.value(x1))


ticks = [
    xticks(x_major, H, H - 8), xticks(x_minor, H, H - 4),
    xticks(x_major, 0, 8), xticks(x_minor, 0, 4),
    yticks(y_major, 0, 8), yticks(y_minor, 0, 4),
    yticks(y_major, W, W - 8), yticks(y_minor, W, W - 4),
]

top_border = alt.Chart(pd.DataFrame({"a": [0]})).mark_rule(color="black", strokeWidth=2.5).encode(
    x=alt.value(0), x2=alt.value(W), y=alt.value(1))

labels_df = pd.DataFrame({"text": labels_text, "t": labels_t, "r2": labels_r2, "color": labels_color})
labels = alt.Chart(labels_df).mark_text(font=FONT, fontSize=24, align="left", baseline="middle").encode(
    x=X, y=Y, text="text:N", color=alt.Color("color:N", scale=None))

chart = alt.layer(
    lines_layer(doughnut_lines, "#c2f06c", 2),
    lines_layer(immobile_lines, "#f7c21a", 2),
    lines_layer(blue_lines, "#1414d2", 2),
    lines_layer(red_lines, "#ec1414", 2),
    lines_layer(hex_line, "#1eb2d8", 8),
    lines_layer(lam_line, "#1ee61e", 9),
    labels,
    *ticks,
    top_border,
).properties(
    width=W, height=H,
    autosize=alt.AutoSizeParams(type="none"),
    padding={"left": 146, "top": 17, "right": 1, "bottom": 78},
).configure_view(stroke=None)

chart.save("out.html", embed_options={"renderer": "svg", "actions": False})
